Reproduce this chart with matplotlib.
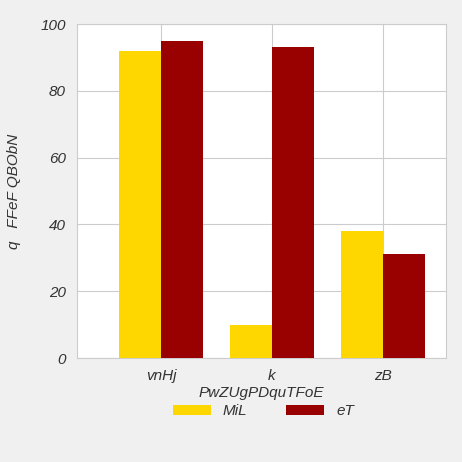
import matplotlib.pyplot as plt
import numpy as np

# data
categories = ['vnHj', 'k', 'zB']
mil_values = [92, 10, 38]
et_values = [95, 93, 31]
series_names = ['MiL', 'eT']

plt.rcParams['font.family'] = ['Liberation Sans', 'DejaVu Sans']

fig = plt.figure(figsize=(4.62, 4.62), dpi=100, facecolor='#f0f0f0')
ax = fig.add_axes([77/462, 1 - 358/462, 369/462, 334/462])
ax.set_facecolor('white')

x = np.arange(len(categories))
w = 0.38
ax.bar(x - w/2, mil_values, w, color='#FFD700', label=series_names[0], zorder=3)
ax.bar(x + w/2, et_values, w, color='#990000', label=series_names[1], zorder=3)

ax.set_xlim(-0.76, 2.57)
ax.set_ylim(0, 100)
ax.set_yticks(np.arange(0, 101, 20))
ax.set_xticks(x)
ax.set_xticklabels(categories)
ax.grid(True, color='#cccccc', linewidth=0.8, zorder=0)
for s in ax.spines.values():
    s.set_color('#cccccc')
ax.tick_params(length=0, labelsize=11, colors='#333333', pad=8)
for t in ax.get_xticklabels() + ax.get_yticklabels():
    t.set_fontstyle('italic')

ax.set_xlabel('PwZUgPDquTFoE', fontsize=11, style='italic', color='#333333', labelpad=2)
ax.set_ylabel('q   FFeF QBObN', fontsize=11, style='italic', color='#333333', labelpad=14)

leg = fig.legend(loc='lower center', bbox_to_anchor=(0.57, 0.065), ncol=2, frameon=False,
                 prop={'style': 'italic', 'size': 11}, handlelength=2.5, handleheight=0.7,
                 columnspacing=2.5)
for t in leg.get_texts():
    t.set_color('#333333')

fig.savefig('out.png', dpi=100, facecolor=fig.get_facecolor())
